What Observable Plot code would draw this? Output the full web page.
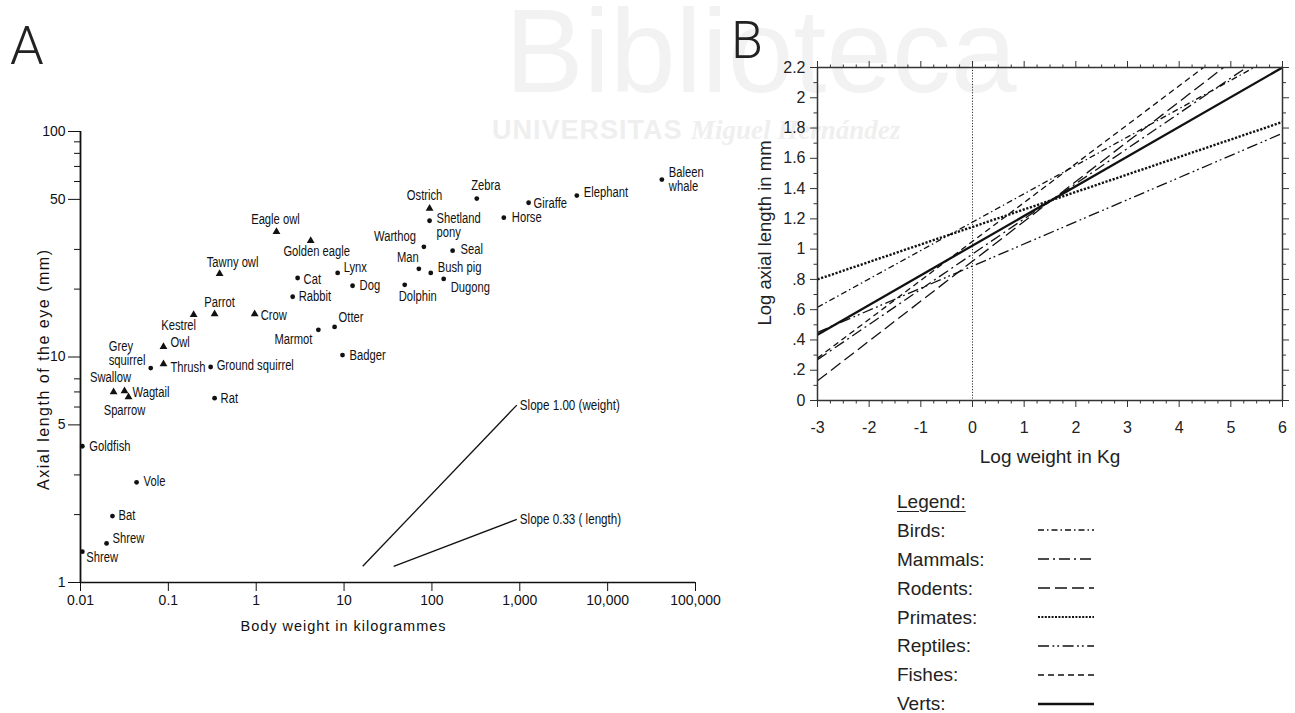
<!DOCTYPE html>
<html>
<head>
<meta charset="utf-8">
<script src="https://cdn.jsdelivr.net/npm/d3@7"></script>
<script src="https://cdn.jsdelivr.net/npm/@observablehq/plot@0.6"></script>
<style>
  html, body { margin: 0; padding: 0; background: #fff; }
  #root { position: relative; width: 1295px; height: 713px; overflow: hidden; }
  #panelA { position: absolute; left: 0; top: 0; width: 730px; height: 660px; }
  #panelB { position: absolute; left: 740px; top: 0; }
  #overlay { position: absolute; left: 0; top: 0; }
  #legend { position: absolute; left: 897px; top: 487px; font-family: "Liberation Sans", Arial, sans-serif; font-size: 19px; color: #222; }
  #legend .row { height: 28.9px; display: flex; align-items: center; }
  #legend .name { width: 140px; line-height: 17px; }
  #legend .title { text-decoration: underline; text-underline-offset: 3px; line-height: 17px; }
</style>
</head>
<body>
<div id="root">
  <svg id="overlay" width="1295" height="713"></svg>
  <div id="panelA"></div>
  <div id="panelB"></div>
  <div id="legend"></div>
</div>
<script>
// ---------- Panel A data (body weight in kg, axial eye length in mm) ----------
const animalNames = ["Baleen\nwhale","Elephant","Giraffe","Horse","Zebra","Ostrich","Shetland\npony","Warthog","Seal","Man","Bush pig","Dugong","Dolphin","Lynx","Dog","Cat","Rabbit","Otter","Marmot","Badger","Eagle owl","Golden eagle","Tawny owl","Parrot","Crow","Kestrel","Owl","Grey\nsquirrel","Thrush","Ground squirrel","Swallow","Wagtail","Sparrow","Rat","Goldfish","Vole","Bat","Shrew","Shrew"];
const bodyWeightKg = [41400,4460,1260,658,324,94,94,81,172,71,97,136,49,8.45,12.5,2.96,2.6,7.8,5.1,9.6,1.7,4.17,0.383,0.336,0.96,0.194,0.088,0.063,0.088,0.303,0.0238,0.0317,0.0352,0.336,0.0105,0.0435,0.0231,0.0198,0.0105];
const eyeLengthMm = [61.2,52,48.3,41.5,50.4,45.5,40.2,30.8,29.6,24.6,23.6,22.2,20.9,23.6,20.7,22.4,18.5,13.6,13.2,10.2,35.9,32.8,23.4,15.5,15.5,15.4,11.1,8.93,9.3,9.03,6.99,7.06,6.64,6.57,4.02,2.78,1.97,1.49,1.37];
const animalClass = ["mammal","mammal","mammal","mammal","mammal","bird","mammal","mammal","mammal","mammal","mammal","mammal","mammal","mammal","mammal","mammal","mammal","mammal","mammal","mammal","bird","bird","bird","bird","bird","bird","bird","mammal","bird","mammal","bird","bird","bird","mammal","fish","mammal","mammal","mammal","mammal"];
// label placement (text anchor, offset in px) for each animal, same order
const labelAnchor = ["start","start","start","start","middle","middle","start","end","start","middle","start","start","middle","start","start","start","start","start","end","start","middle","middle","middle","middle","start","middle","start","start","start","start","middle","start","middle","start","start","start","start","start","start"];
const labelDx = [7,7,5,8,9,-5,7,-8,8,-11,7,7,13,6,7,6,6,4,-6,7,-1,6,13,5,6,-15,7,-42,7,6,-3,8,-4,6,7,7,6,6,4];
const labelDy = [0,-3,1,0,-13,-13,5,-10,-1,-11,-5,9,12,-5,0,1,0,-9,10,0,-12,11,-11,-12,1,11,-4,-15,3,-1,-15,1,13,0,0,-1,-1,-5,6];

const slopeNames = ["Slope 1.00 (weight)", "Slope 0.33 ( length)"];
const slopeW0 = [16.3, 36.7];
const slopeL0 = [1.18, 1.18];
const slopeW1 = [925, 925];
const slopeL1 = [6.12, 1.905];

const xTickValuesA = [0.01, 0.1, 1, 10, 100, 1000, 10000, 100000];
const xTickLabelsA = ["0.01", "0.1", "1", "10", "100", "1,000", "10,000", "100,000"];
const yMajorTicksA = [1, 5, 10, 50, 100];
const yMinorTicksA = [2, 3, 6, 7, 8, 20, 30, 60, 70, 80, 90];
const xLabelA = "Body weight in kilogrammes";
const yLabelA = "Axial length of the eye (mm)";

// ---------- Panel B data (regression lines, log10 values) ----------
const groups = ["Birds", "Mammals", "Rodents", "Primates", "Reptiles", "Fishes", "Verts"];
const logWeightStart = [-3, -3, -3, -3, -3, -3, -3];
const logAxialStart = [0.616, 0.27, 0.13, 0.80, 0.45, 0.28, 0.435];
const logWeightEnd = [5.45, 5.3, 4.86, 6, 6, 4.47, 6];
const logAxialEnd = [2.2, 2.2, 2.2, 1.84, 1.765, 2.2, 2.2];

const xTickValuesB = [-3, -2, -1, 0, 1, 2, 3, 4, 5, 6];
const yTickValuesB = [0, 0.2, 0.4, 0.6, 0.8, 1, 1.2, 1.4, 1.6, 1.8, 2, 2.2];
const yTickLabelsB = ["0", ".2", ".4", ".6", ".8", "1", "1.2", "1.4", "1.6", "1.8", "2", "2.2"];
const xLabelB = "Log weight in Kg";
const yLabelB = "Log axial length in mm";

// line styles (not data)
const lineStyle = {
  Birds:    {dash: "6,3,1.5,3", width: 1.3},
  Mammals:  {dash: "11,4,2,4", width: 1.3},
  Rodents:  {dash: "12,5", width: 1.3},
  Primates: {dash: "2.2,1.6", width: 2.4},
  Reptiles: {dash: "11,3.5,1.8,3,1.8,3.5", width: 1.3},
  Fishes:   {dash: "6,4", width: 1.3},
  Verts:    {dash: null, width: 2.3}
};

// ---------- overlay: panel letters + faint watermark ----------
const ov = d3.select("#overlay");
ov.append("text").attr("x", 505).attr("y", 92).attr("font-family", "Liberation Sans, Arial, sans-serif")
  .attr("font-size", 118).attr("fill", "#f2f2f2").text("Biblioteca");
const wm = ov.append("text").attr("x", 492).attr("y", 139).attr("font-size", 27).attr("fill", "#efefef");
wm.append("tspan").attr("font-family", "Liberation Sans, Arial, sans-serif").attr("font-weight", "bold").attr("letter-spacing", 1).text("UNIVERSITAS ");
wm.append("tspan").attr("font-family", "Liberation Serif, serif").attr("font-style", "italic").attr("font-weight", "bold").text("Miguel Hernández");
ov.append("text").attr("x", 10).attr("y", 64).attr("font-family", "Roboto, Liberation Sans, sans-serif")
  .attr("font-weight", 300).attr("font-size", 54).attr("fill", "#222").text("A");
ov.append("text").attr("x", 731).attr("y", 58).attr("font-family", "Roboto, Liberation Sans, sans-serif")
  .attr("font-weight", 300).attr("font-size", 52).attr("fill", "#222").text("B");

// ---------- Panel A ----------
const animals = animalNames.map((name, i) => ({
  name, w: bodyWeightKg[i], L: eyeLengthMm[i], cls: animalClass[i],
  anchor: labelAnchor[i], dx: labelDx[i], dy: labelDy[i]
}));
const slopes = slopeNames.map((label, i) => ({label, w0: slopeW0[i], L0: slopeL0[i], w1: slopeW1[i], L1: slopeL1[i]}));
const fontA = "'Liberation Sans', Arial, sans-serif";

const plotA = Plot.plot({
  width: 720, height: 650,
  marginLeft: 80, marginRight: 25, marginTop: 131, marginBottom: 68,
  x: {type: "log", domain: [0.01, 100000]},
  y: {type: "log", domain: [1, 100]},
  style: {fontFamily: fontA, fontSize: "14px", color: "#111", background: "transparent", overflow: "visible"},
  marks: [
    Plot.ruleY([1], {stroke: "#111", strokeWidth: 1.6}),
    Plot.ruleX([0.01], {y1: 1, y2: 100, stroke: "#111", strokeWidth: 1.8}),
    Plot.axisX({ticks: xTickValuesA, tickFormat: d => xTickLabelsA[xTickValuesA.indexOf(d)], tickSize: 9, tickPadding: 4, fontSize: 14, label: null, stroke: "#111"}),
    Plot.axisY({ticks: yMinorTicksA, tickSize: 6, tickFormat: () => "", label: null, stroke: "#111"}),
    Plot.axisY({ticks: yMajorTicksA, tickSize: 12, tickPadding: 3, tickFormat: d => String(d), fontSize: 14, label: null, stroke: "#111"}),
    Plot.text([xLabelA], {frameAnchor: "bottom", textAnchor: "middle", dx: -45, dy: 48, fontSize: 14.5, fill: "#111"}),
    Plot.text([yLabelA], {frameAnchor: "left", textAnchor: "middle", dx: -37, dy: 13, rotate: -90, fontSize: 16, fill: "#111"}),
    Plot.dot(animals.filter(d => d.cls !== "bird"), {x: "w", y: "L", r: 2.4, fill: "#111", stroke: "none"}),
    Plot.dot(animals.filter(d => d.cls === "bird"), {x: "w", y: "L", symbol: "triangle", r: 2.9, fill: "#111", stroke: "none"}),
    ...animals.map(a => Plot.text([a], {x: "w", y: "L", text: "name", textAnchor: a.anchor, dx: a.dx, dy: a.dy, fill: "#111", fontSize: 14, lineHeight: 1})),
    Plot.link(slopes, {x1: "w0", y1: "L0", x2: "w1", y2: "L1", stroke: "#111", strokeWidth: 1.3}),
    Plot.text(slopes, {x: "w1", y: "L1", text: "label", textAnchor: "start", dx: 3, fill: "#111", fontSize: 14.5})
  ]
});
document.getElementById("panelA").appendChild(plotA);

// condense the hand-lettered labels (the original uses a narrow technical font)
const labelSet = new Set(animalNames.map(n => n.replace(/\n/g, "")).concat(slopeNames));
d3.select(plotA).selectAll("text").each(function () {
  if (!labelSet.has(this.textContent)) return;
  const spans = this.querySelectorAll("tspan");
  const nodes = spans.length ? Array.from(spans) : [this];
  nodes.forEach(n => {
    const len = n.getComputedTextLength();
    n.setAttribute("textLength", (len * 0.8).toFixed(1));
    n.setAttribute("lengthAdjust", "spacingAndGlyphs");
  });
});
// widely spaced axis titles, as in the original; re-centre after stretching
function stretchCentered(el, length) {
  const before = el.getBBox();
  const c0 = before.x + before.width / 2;
  el.setAttribute("textLength", length);
  el.setAttribute("lengthAdjust", "spacing");
  const after = el.getBBox();
  const c1 = after.x + after.width / 2;
  const x0 = +(el.getAttribute("x") || 0);
  el.setAttribute("x", (x0 + c0 - c1).toFixed(1));
}
d3.select(plotA).selectAll("text").each(function () {
  if (this.textContent === xLabelA) stretchCentered(this, 205);
  if (this.textContent === yLabelA) stretchCentered(this, 240);
});

// ---------- Panel B ----------
const rows = groups.map((g, i) => ({g, x0: logWeightStart[i], y0: logAxialStart[i], x1: logWeightEnd[i], y1: logAxialEnd[i]}));
const minorX = d3.range(-3, 6.001, 0.25).filter(v => !Number.isInteger(v));
const minorY = d3.range(0.1, 2.2, 0.2).map(v => +v.toFixed(1));
const fontB = "'Liberation Sans', Arial, sans-serif";

const plotB = Plot.plot({
  width: 555, height: 480,
  marginLeft: 77, marginRight: 13, marginTop: 67, marginBottom: 80,
  x: {domain: [-3, 6]},
  y: {domain: [0, 2.2]},
  style: {fontFamily: fontB, fontSize: "16px", color: "#222", background: "transparent", overflow: "visible"},
  marks: [
    Plot.ruleX([0], {stroke: "#333", strokeWidth: 1, strokeDasharray: "1.2,1.6"}),
    ...rows.map(r => Plot.link([r], {x1: "x0", y1: "y0", x2: "x1", y2: "y1", stroke: "#111",
      strokeWidth: lineStyle[r.g].width, strokeDasharray: lineStyle[r.g].dash || undefined})),
    Plot.frame({stroke: "#333", strokeWidth: 1.5}),
    Plot.axisX({anchor: "bottom", ticks: xTickValuesB, tickSize: 7, tickPadding: 14, tickFormat: d => String(d), label: null, fontSize: 16, stroke: "#333"}),
    Plot.axisX({anchor: "bottom", ticks: minorX, tickSize: 3.5, tickFormat: () => "", label: null, stroke: "#333"}),
    Plot.axisX({anchor: "top", ticks: xTickValuesB, tickSize: 7, tickFormat: () => "", label: null, stroke: "#333"}),
    Plot.axisX({anchor: "top", ticks: minorX, tickSize: 3.5, tickFormat: () => "", label: null, stroke: "#333"}),
    Plot.axisY({anchor: "left", ticks: yTickValuesB, tickSize: 7, tickPadding: 5, tickFormat: d => yTickLabelsB[yTickValuesB.findIndex(v => Math.abs(v - d) < 1e-9)], label: null, fontSize: 16, stroke: "#333"}),
    Plot.axisY({anchor: "left", ticks: minorY, tickSize: 3.5, tickFormat: () => "", label: null, stroke: "#333"}),
    Plot.axisY({anchor: "right", ticks: yTickValuesB, tickSize: 6, tickFormat: () => "", label: null, stroke: "#333"}),
    Plot.axisY({anchor: "right", ticks: minorY, tickSize: 3, tickFormat: () => "", label: null, stroke: "#333"}),
    Plot.text([xLabelB], {frameAnchor: "bottom", textAnchor: "middle", dy: 62, fontSize: 19, fill: "#222"}),
    Plot.text([yLabelB], {frameAnchor: "left", textAnchor: "middle", dx: -52, dy: -1, rotate: -90, fontSize: 18.5, fill: "#222"})
  ]
});
document.getElementById("panelB").appendChild(plotB);

// ---------- Legend ----------
const leg = d3.select("#legend");
leg.append("div").attr("class", "row").append("span").attr("class", "title").text("Legend:");
groups.forEach(g => {
  const row = leg.append("div").attr("class", "row");
  row.append("span").attr("class", "name").text(g + ":");
  const s = row.append("svg").attr("width", 58).attr("height", 12);
  s.append("line").attr("x1", 1).attr("x2", 57).attr("y1", 6).attr("y2", 6)
    .attr("stroke", "#111").attr("stroke-width", g === "Verts" ? 2.6 : (g === "Primates" ? 2.2 : 1.6))
    .attr("stroke-dasharray", lineStyle[g].dash ? (g === "Primates" ? "2,1.4" : lineStyle[g].dash) : null);
});
</script>
</body>
</html>
